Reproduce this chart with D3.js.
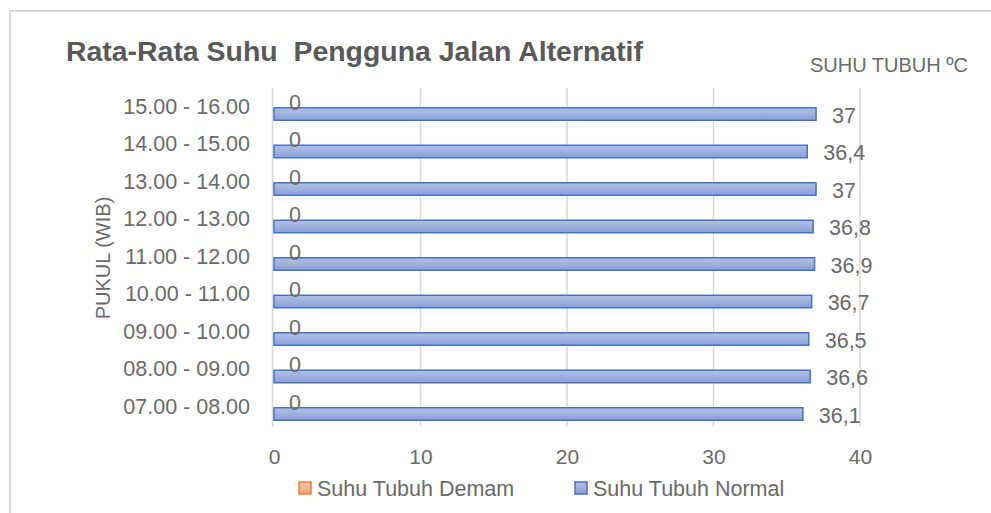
<!DOCTYPE html>
<html><head><meta charset="utf-8">
<script src="https://cdn.jsdelivr.net/npm/d3@7"></script>
<style>
html,body{margin:0;padding:0;background:#fff;}
svg text{font-family:"Liberation Sans",Arial,sans-serif;fill:#6a6a6a;}
</style></head>
<body><svg id="c" width="991" height="513"></svg>
<script>
const categories = ["07.00 - 08.00","08.00 - 09.00","09.00 - 10.00","10.00 - 11.00","11.00 - 12.00","12.00 - 13.00","13.00 - 14.00","14.00 - 15.00","15.00 - 16.00"];
const demam = [0,0,0,0,0,0,0,0,0];
const normal = [36.1,36.6,36.5,36.7,36.9,36.8,37,36.4,37];
const xTicks = [0,10,20,30,40];
const seriesNames = ["Suhu Tubuh Demam","Suhu Tubuh Normal"];
const title = "Rata-Rata Suhu  Pengguna Jalan Alternatif";
const xTitle = "SUHU TUBUH ºC";
const yTitle = "PUKUL (WIB)";

const svg = d3.select("#c");
const defs = svg.append("defs");
const g1 = defs.append("linearGradient").attr("id","gb").attr("x1",0).attr("y1",0).attr("x2",0).attr("y2",1);
g1.append("stop").attr("offset","0%").attr("stop-color","#b3c1e8");
g1.append("stop").attr("offset","100%").attr("stop-color","#8b9fd5");
const g2 = defs.append("linearGradient").attr("id","go").attr("x1",0).attr("y1",0).attr("x2",0).attr("y2",1);
g2.append("stop").attr("offset","0%").attr("stop-color","#f8c4a4");
g2.append("stop").attr("offset","100%").attr("stop-color","#f1a57a");

// chart border
svg.append("rect").attr("x",10).attr("y",11).attr("width",1000).attr("height",520)
  .attr("fill","none").attr("stroke","#d9d9d9").attr("stroke-width",2);

const x = d3.scaleLinear().domain([0,40]).range([274,860]);
const y = d3.scaleBand().domain(categories.slice().reverse()).range([88.25,425.75]);
const sub = d3.scaleBand().domain(["d","n"]).range([-14,14]);

// gridlines
svg.append("g").selectAll("line").data(xTicks.slice(1)).join("line")
  .attr("x1",d=>x(d)).attr("x2",d=>x(d)).attr("y1",88).attr("y2",426)
  .attr("stroke","#d9d9d9").attr("stroke-width",1.5);
svg.append("line").attr("x1",272.5).attr("x2",272.5).attr("y1",88).attr("y2",427)
  .attr("stroke","#d9d9d9").attr("stroke-width",1.5);

// x axis labels
const xAxis = d3.axisBottom(x).tickValues(xTicks).tickSize(0).tickPadding(0);
const xa = svg.append("g").attr("transform","translate(0,449)").call(xAxis);
xa.select(".domain").remove();
xa.selectAll("text").attr("font-size",21).attr("fill","#6a6a6a").style("font-family","'Liberation Sans',Arial,sans-serif");

// y axis labels
const yAxis = d3.axisLeft(y).tickSize(0).tickPadding(0);
const ya = svg.append("g").attr("transform","translate(250,0)").call(yAxis);
ya.select(".domain").remove();
ya.selectAll("text").attr("font-size",21.5).attr("fill","#6a6a6a").style("font-family","'Liberation Sans',Arial,sans-serif");

const data = categories.map((c,i)=>({c, d:demam[i], n:normal[i]}));
const center = c => y(c) + y.bandwidth()/2;

// bars
svg.append("g").selectAll("rect").data(data).join("rect")
  .attr("x",x(0)).attr("y",d=>center(d.c)+sub("n")+0.75)
  .attr("width",d=>x(d.n)-x(0)).attr("height",sub.bandwidth()-1.5)
  .attr("fill","url(#gb)").attr("stroke","#4472c4").attr("stroke-width",1.5);
svg.append("g").selectAll("rect").data(data).join("rect")
  .attr("x",x(0)).attr("y",d=>center(d.c)+sub("d")+0.75)
  .attr("width",d=>x(d.d)-x(0)).attr("height",sub.bandwidth()-1.5)
  .attr("fill","url(#go)").attr("stroke","#ed7d31").attr("stroke-width",1.5);

// value labels
svg.append("g").selectAll("text").data(data).join("text")
  .attr("x",d=>x(d.n)+16).attr("y",d=>center(d.c)+sub("n")+sub.bandwidth()/2+1)
  .attr("dy","0.35em").attr("font-size",21.5)
  .text(d=>String(d.n).replace(".",","));
svg.append("g").selectAll("text").data(data).join("text")
  .attr("x",d=>x(d.d)+15).attr("y",d=>center(d.c)+sub("d")+sub.bandwidth()/2+2)
  .attr("dy","0.35em").attr("font-size",21.5)
  .text(d=>String(d.d).replace(".",","));

// title
svg.append("text").attr("x",66).attr("y",61).attr("font-size",27)
  .attr("font-weight","bold").style("white-space","pre").style("fill","#595959")
  .attr("textLength",577).attr("lengthAdjust","spacingAndGlyphs").text(title);

svg.append("text").attr("x",968).attr("y",72).attr("text-anchor","end")
  .attr("font-size",20).text(xTitle);
svg.append("text").attr("transform","translate(110,258) rotate(-90)")
  .attr("text-anchor","middle").attr("font-size",20).text(yTitle);

// legend
const leg = [{n:seriesNames[0],x:299,f:"url(#go)",s:"#ed7d31"},{n:seriesNames[1],x:575,f:"url(#gb)",s:"#4472c4"}];
const lg = svg.append("g").selectAll("g").data(leg).join("g");
lg.append("rect").attr("x",d=>d.x).attr("y",482).attr("width",12).attr("height",12)
  .attr("fill",d=>d.f).attr("stroke",d=>d.s).attr("stroke-width",1.5);
lg.append("text").attr("x",d=>d.x+18).attr("y",488).attr("dy","0.35em").attr("font-size",21.5).text(d=>d.n);
</script></body></html>
